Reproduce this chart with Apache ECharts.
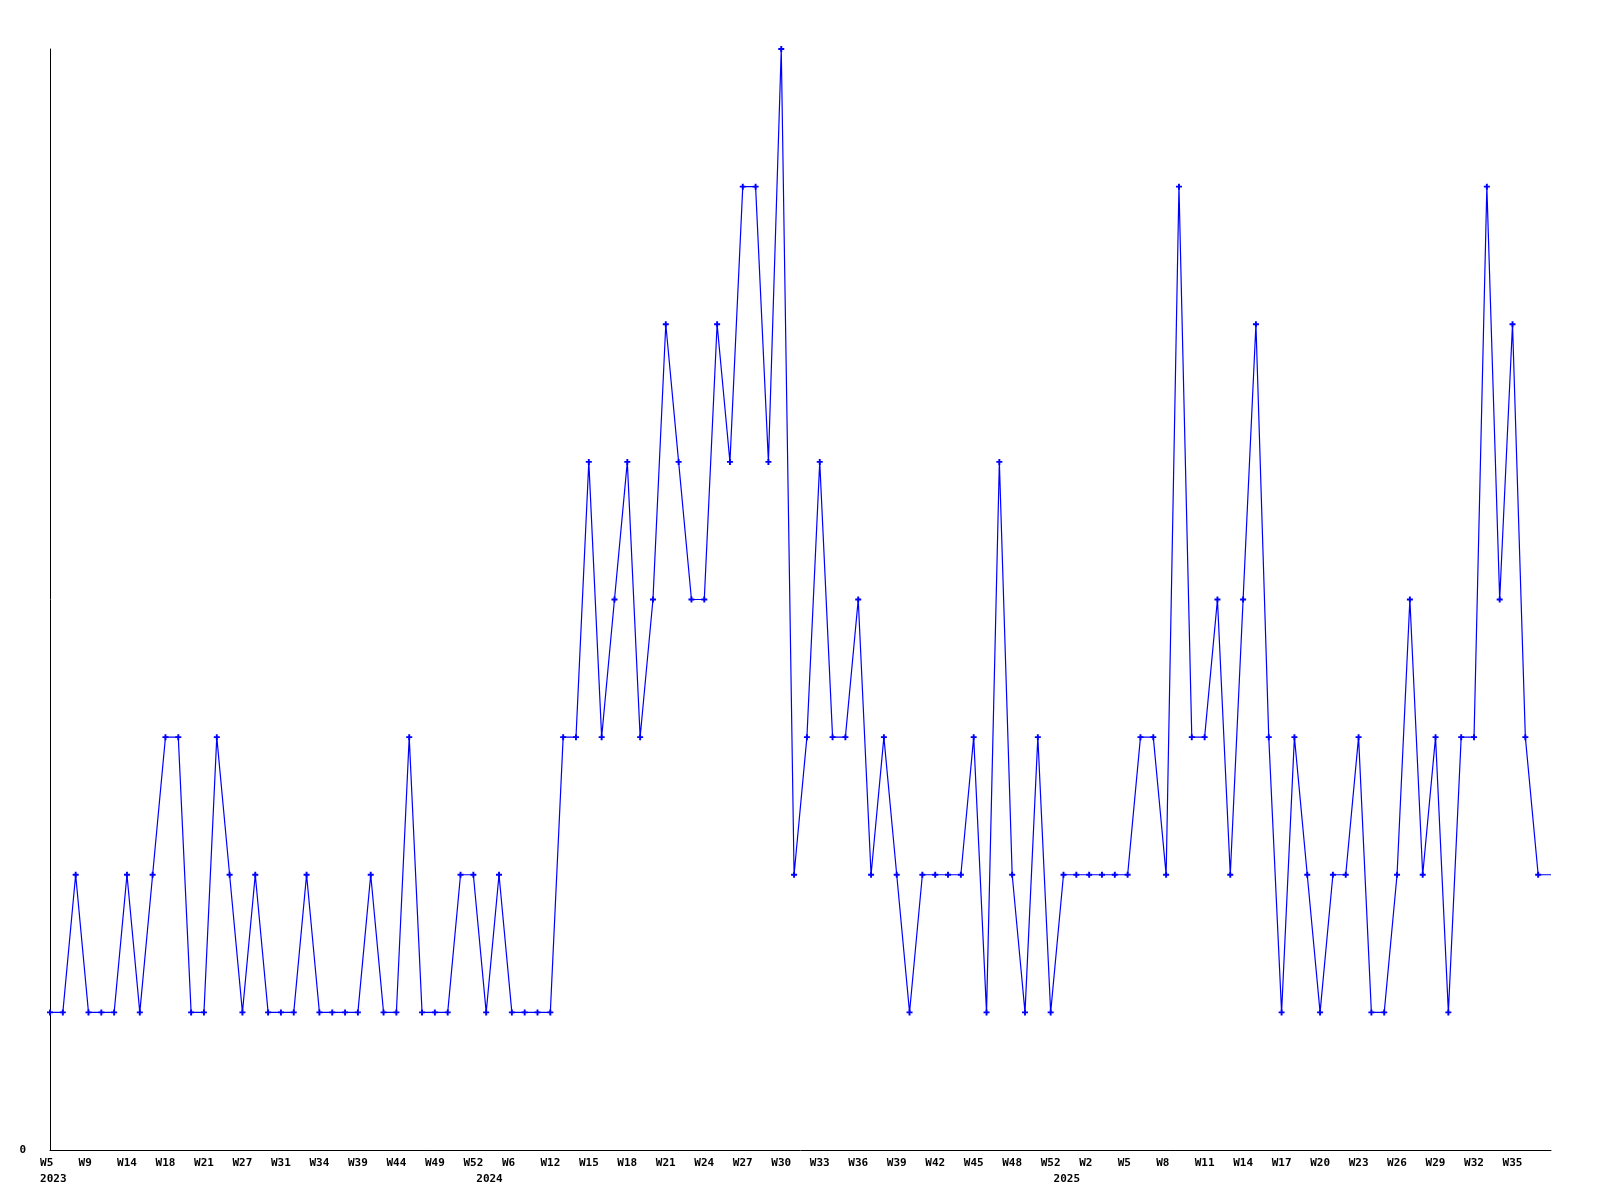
<!DOCTYPE html>
<html>
<head>
<meta charset="utf-8">
<script src="https://cdn.jsdelivr.net/npm/echarts@6/dist/echarts.min.js"></script>
<style>
html,body{margin:0;padding:0;background:#fff;}
#chart{width:1600px;height:1200px;}
</style>
</head>
<body>
<div id="chart"></div>
<script>
// Series values (one point per sample, evenly spaced)
const values = [
  1,1,2,1,1,1,2,1,2,3,3,1,1,3,2,1,2,1,1,1,2,1,1,1,1,2,1,1,3,1,1,1,2,2,1,2,1,1,1,1,
  3,3,5,3,4,5,3,4,6,5,4,4,6,5,7,7,5,8,2,3,5,3,3,4,2,3,2,1,2,2,2,2,3,1,5,2,1,3,
  1,2,2,2,2,2,2,3,3,2,7,3,3,4,2,4,6,3,1,3,2,1,2,2,3,1,1,2,4,2,3,1,3,3,7,4,6,3,2,2
];
// Week tick labels, one every 3 samples starting at the first
const weekLabels = [
  'W5','W9','W14','W18','W21','W27','W31','W34','W39','W44','W49','W52',
  'W6','W12','W15','W18','W21','W24','W27','W30','W33','W36','W39','W42','W45','W48','W52',
  'W2','W5','W8','W11','W14','W17','W20','W23','W26','W29','W32','W35'
];
const tickEvery = 3;
// Year labels: sample index where each year starts
const yearStartIndex = [0, 34, 79];
const yearNames = ['2023', '2024', '2025'];
const yAxisTickLabels = ['0'];

const n = values.length;
const weekCats = [];
const yearCats = [];
for (let i = 0; i < n; i++) {
  weekCats.push(i % tickEvery === 0 && weekLabels[i / tickEvery] ? weekLabels[i / tickEvery] : '');
  const yi = yearStartIndex.indexOf(i);
  yearCats.push(yi >= 0 ? yearNames[yi] : '');
}
const seriesData = values.map((v, i) => i === n - 1 ? { value: v, symbol: 'none' } : v);

const font = 'DejaVu Sans Mono';
const chart = echarts.init(document.getElementById('chart'), null, { renderer: 'canvas' });
chart.setOption({
  animation: false,
  backgroundColor: '#ffffff',
  grid: { left: 50, right: 49, top: 49, bottom: 50, containLabel: false },
  xAxis: [
    {
      type: 'category',
      data: weekCats,
      boundaryGap: false,
      axisLine: { show: true, lineStyle: { color: '#000', width: 1 } },
      axisTick: { show: false },
      splitLine: { show: false },
      axisLabel: {
        interval: (idx, val) => val !== '',
        formatter: (val) => val.padEnd(3, ' '),
        color: '#000', fontFamily: font, fontWeight: 'bold', fontSize: 11,
        margin: 8, showMinLabel: true, showMaxLabel: true, hideOverlap: false
      }
    },
    {
      type: 'category',
      data: yearCats,
      boundaryGap: false,
      position: 'bottom',
      offset: 16,
      axisLine: { show: false },
      axisTick: { show: false },
      splitLine: { show: false },
      axisLabel: {
        interval: (idx, val) => val !== '',
        formatter: (val) => ' ' + val,
        color: '#000', fontFamily: font, fontWeight: 'bold', fontSize: 11,
        margin: 8, showMinLabel: true, hideOverlap: false
      }
    }
  ],
  yAxis: {
    type: 'value',
    min: 0, max: 8, interval: 1,
    axisLine: { show: true, lineStyle: { color: '#000', width: 1 } },
    axisTick: { show: false },
    splitLine: { show: false },
    axisLabel: {
      formatter: (v) => v === 0 ? yAxisTickLabels[0] : '',
      color: '#000', fontFamily: font, fontWeight: 'bold', fontSize: 11, margin: 24
    }
  },
  series: [{
    type: 'line',
    xAxisIndex: 0,
    data: seriesData,
    symbol: 'path://M1.7,0H3.3V1.7H5V3.3H3.3V5H1.7V3.3H0V1.7H1.7Z',
    symbolSize: 6,
    showSymbol: true,
    lineStyle: { color: '#0000ff', width: 1.2 },
    itemStyle: { color: '#0000ff', borderWidth: 0 },
    emphasis: { disabled: true }
  }]
});
</script>
</body>
</html>
